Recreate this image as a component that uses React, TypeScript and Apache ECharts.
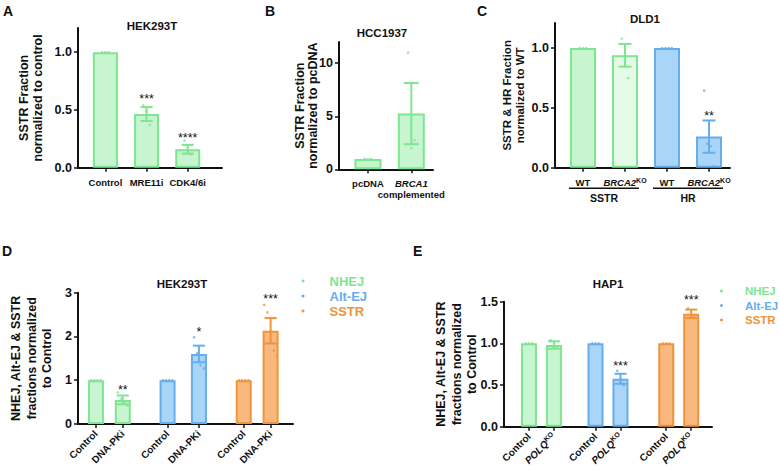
import React, { useEffect, useRef } from 'react';
import * as echarts from 'echarts';

const FONT = '"Liberation Sans", Arial, Helvetica, sans-serif';
const INK = '#111111';

type Col = { fill: string; border: string };
const GREEN: Col = { fill: '#C6F5CF', border: '#7EE591' };
const GREEN_PALE: Col = { fill: '#E4FBE8', border: '#7EE591' };
const BLUE: Col = { fill: '#A9D6F8', border: '#66ADEB' };
const ORANGE: Col = { fill: '#F9B97E', border: '#F0933C' };

// ---------- Panel A : HEK293T ----------
const aLabels = ['Control', 'MRE11i', 'CDK4/6i'];
const aMeans = [1.0, 0.465, 0.16];
const aSems = [0, 0.06, 0.038];
const aPoints = [[1.0, 1.0, 1.0], [0.54, 0.49, 0.37], [0.235, 0.13, 0.115]];
const aStars = ['', '***', '****'];
const aStarLevels = [0, 0.615, 0.28];
const aTicks = [0, 0.5, 1.0];

// ---------- Panel B : HCC1937 ----------
const bLabels = ['pcDNA', '{i|BRCA1}\ncomplemented'];
const bMeans = [0.98, 5.25];
const bSems = [0, 2.88];
const bPoints = [[1.0, 0.97, 0.98], [11.0, 2.0, 2.75]];
const bStars = ['', ''];
const bStarLevels = [0, 0];
const bTicks = [0, 5, 10];

// ---------- Panel C : DLD1 ----------
const cLabels = ['WT', '{i|BRCA2}{sup|KO}', 'WT', '{i|BRCA2}{sup|KO}'];
const cGroups = ['SSTR', 'HR'];
const cGroupMembers = [[0, 1], [2, 3]];
const cMeans = [1.0, 0.94, 1.0, 0.26];
const cSems = [0, 0.095, 0, 0.135];
const cPoints = [[1, 1, 1], [1.08, 0.99, 0.75], [1, 1, 1, 1], [0.645, 0.2, 0.18, 0.014]];
const cStars = ['', '', '', '**'];
const cStarLevels = [0, 0, 0, 0.455];
const cTicks = [0, 0.5, 1.0];

// ---------- Panel D : HEK293T ----------
const legendNames = ['NHEJ', 'Alt-EJ', 'SSTR'];
const dLabels = ['Control', 'DNA-PKi', 'Control', 'DNA-PKi', 'Control', 'DNA-PKi'];
const dSeries = ['NHEJ', 'NHEJ', 'Alt-EJ', 'Alt-EJ', 'SSTR', 'SSTR'];
const dMeans = [1.0, 0.55, 1.0, 1.6, 1.0, 2.13];
const dSems = [0, 0.1, 0, 0.19, 0, 0.29];
const dPoints = [
  [1, 1, 1, 1],
  [0.72, 0.58, 0.48, 0.42],
  [1, 1, 1, 1],
  [1.98, 1.62, 1.34, 1.27],
  [1, 1, 1, 1],
  [2.72, 2.55, 2.1, 1.68, 1.55],
];
const dStars = ['', '**', '', '*', '', '***'];
const dStarLevels = [0, 0.83, 0, 2.17, 0, 2.91];
const dTicks = [0, 1, 2, 3];

// ---------- Panel E : HAP1 ----------
const eLabels = ['Control', '{i|POLQ}{sup|KO}', 'Control', '{i|POLQ}{sup|KO}', 'Control', '{i|POLQ}{sup|KO}'];
const eSeries = ['NHEJ', 'NHEJ', 'Alt-EJ', 'Alt-EJ', 'SSTR', 'SSTR'];
const eMeans = [1.0, 0.98, 1.0, 0.575, 1.0, 1.355];
const eSems = [0, 0.045, 0, 0.06, 0, 0.05];
const ePoints = [
  [1, 1, 1],
  [1.04, 0.95, 0.96],
  [1, 1, 1],
  [0.67, 0.55, 0.5],
  [1, 1, 1],
  [1.42, 1.33, 1.31],
];
const eStars = ['', '', '', '***', '', '***'];
const eStarLevels = [0, 0, 0, 0.76, 0, 1.55];
const eTicks = [0, 0.5, 1.0, 1.5];

const legendColors: Record<string, Col> = { NHEJ: GREEN, 'Alt-EJ': BLUE, SSTR: ORANGE };

interface PanelCfg {
  grid: { left: number; top: number; width: number; height: number };
  nSlots: number;
  slots: number[];
  labels: string[];
  yMax: number;
  yTicks: number[];
  yDigits: number;
  yName: string;
  nameGap: number;
  nameLH: number;
  nameSize: number;
  means: number[];
  sems: number[];
  points: number[][];
  stars: string[];
  starLevels: number[];
  colors: Col[];
  seriesNames?: string[];
  barWidth: number;
  capHalf: number;
  labelRotate: number;
  labelSize: number;
  labelMargin: number;
  labelLH: number;
}

const panels: PanelCfg[] = [
  {
    grid: { left: 78, top: 28, width: 144, height: 139.7 },
    nSlots: 22, slots: [4, 10, 16], labels: aLabels,
    yMax: 1.21, yTicks: aTicks, yDigits: 1,
    yName: 'SSTR Fraction\nnormalized to control', nameGap: 33, nameLH: 14, nameSize: 12.5,
    means: aMeans, sems: aSems, points: aPoints, stars: aStars, starLevels: aStarLevels,
    colors: [GREEN, GREEN, GREEN], barWidth: 25, capHalf: 6,
    labelRotate: 0, labelSize: 9.5, labelMargin: 9, labelLH: 11,
  },
  {
    grid: { left: 339, top: 42, width: 94, height: 127.3 },
    nSlots: 14, slots: [4, 10], labels: bLabels,
    yMax: 12, yTicks: bTicks, yDigits: 0,
    yName: 'SSTR Fraction\nnormalized to pcDNA', nameGap: 19, nameLH: 13.5, nameSize: 12.5,
    means: bMeans, sems: bSems, points: bPoints, stars: bStars, starLevels: bStarLevels,
    colors: [GREEN, GREEN], barWidth: 27, capHalf: 7.5,
    labelRotate: 0, labelSize: 9.5, labelMargin: 9, labelLH: 11,
  },
  {
    grid: { left: 555, top: 23, width: 175, height: 144.7 },
    nSlots: 26, slots: [4, 10, 16, 22], labels: cLabels,
    yMax: 1.21, yTicks: cTicks, yDigits: 1,
    yName: 'SSTR & HR Fraction\nnormalized to WT', nameGap: 29, nameLH: 12.5, nameSize: 11.5,
    means: cMeans, sems: cSems, points: cPoints, stars: cStars, starLevels: cStarLevels,
    colors: [GREEN, GREEN_PALE, BLUE, BLUE], barWidth: 26, capHalf: 6.5,
    labelRotate: 0, labelSize: 9.5, labelMargin: 9, labelLH: 11,
  },
  {
    grid: { left: 78, top: 292.7, width: 215, height: 131.3 },
    nSlots: 49, slots: [4, 10, 20, 27, 37, 43], labels: dLabels,
    yMax: 3, yTicks: dTicks, yDigits: 0,
    yName: 'NHEJ, Alt-EJ & SSTR\nfractions normalized\nto Control', nameGap: 23, nameLH: 15.5, nameSize: 12.5,
    means: dMeans, sems: dSems, points: dPoints, stars: dStars, starLevels: dStarLevels,
    colors: [GREEN, GREEN, BLUE, BLUE, ORANGE, ORANGE], seriesNames: dSeries,
    barWidth: 16, capHalf: 6,
    labelRotate: 45, labelSize: 10, labelMargin: 8, labelLH: 12,
  },
  {
    grid: { left: 504, top: 301.7, width: 208, height: 125 },
    nSlots: 51, slots: [6, 12, 22, 28, 39, 45], labels: eLabels,
    yMax: 1.5, yTicks: eTicks, yDigits: 1,
    yName: 'NHEJ, Alt-EJ & SSTR\nfractions normalized\nto Control', nameGap: 24, nameLH: 15.5, nameSize: 12.5,
    means: eMeans, sems: eSems, points: ePoints, stars: eStars, starLevels: eStarLevels,
    colors: [GREEN, GREEN, BLUE, BLUE, ORANGE, ORANGE], seriesNames: eSeries,
    barWidth: 16, capHalf: 6,
    labelRotate: 45, labelSize: 10, labelMargin: 8, labelLH: 12,
  },
];

function buildOption() {
  const grid: any[] = [];
  const xAxis: any[] = [];
  const yAxis: any[] = [];
  const series: any[] = [];

  panels.forEach((p, pi) => {
    grid.push({ ...p.grid, containLabel: false, outerBoundsMode: 'none' });
    const labelAt: Record<number, string> = {};
    p.slots.forEach((s, i) => { labelAt[s] = p.labels[i]; });
    const show = (index: number) => labelAt[index] !== undefined;
    const supSize = Math.round(p.labelSize * 0.7);
    xAxis.push({
      gridIndex: pi,
      type: 'category',
      boundaryGap: false,
      data: Array.from({ length: p.nSlots }, (_, i) => 's' + i),
      axisLine: { show: true, lineStyle: { color: INK, width: 2 } },
      axisTick: { show: true, interval: show, length: 4, lineStyle: { color: INK, width: 1.5 } },
      splitLine: { show: false },
      axisLabel: {
        interval: 0,
        hideOverlap: false,
        rotate: p.labelRotate,
        margin: p.labelMargin,
        color: INK,
        fontFamily: FONT,
        fontWeight: 'bold',
        fontSize: p.labelSize,
        lineHeight: p.labelLH,
        formatter: (v: string) => labelAt[parseInt(v.slice(1), 10)] ?? '',
        rich: {
          i: { fontStyle: 'italic', fontWeight: 'bold', fontSize: p.labelSize, fontFamily: FONT, color: INK, lineHeight: p.labelLH },
          sup: { fontWeight: 'bold', fontSize: supSize, fontFamily: FONT, color: INK, verticalAlign: 'top', lineHeight: p.labelLH },
        },
      },
    });
    yAxis.push({
      gridIndex: pi,
      type: 'value',
      min: 0,
      max: p.yMax,
      splitLine: { show: false },
      axisLine: { show: true, lineStyle: { color: INK, width: 2 } },
      axisTick: { show: true, length: 4, customValues: p.yTicks, lineStyle: { color: INK, width: 1.5 } },
      axisLabel: {
        customValues: p.yTicks,
        formatter: (v: number) => v.toFixed(p.yDigits),
        color: INK,
        fontFamily: FONT,
        fontWeight: 'bold',
        fontSize: 12.5,
        margin: 6,
      },
      name: p.yName,
      nameLocation: 'middle',
      nameGap: p.nameGap,
      nameMoveOverlap: false,
      nameTextStyle: { color: INK, fontFamily: FONT, fontWeight: 'bold', fontSize: p.nameSize, lineHeight: p.nameLH },
    });

    // bars
    const names = p.seriesNames ?? p.means.map(() => '');
    const uniq = Array.from(new Set(names));
    uniq.forEach((nm) => {
      const data: any[] = Array(p.nSlots).fill('-');
      p.means.forEach((m, i) => {
        if (names[i] !== nm) return;
        data[p.slots[i]] = { value: m, itemStyle: { color: p.colors[i].fill, borderColor: p.colors[i].border } };
      });
      const s: any = {
        type: 'bar',
        xAxisIndex: pi,
        yAxisIndex: pi,
        stack: 'stack' + pi,
        barWidth: p.barWidth,
        itemStyle: { borderWidth: 2 },
        data,
        z: 2,
        silent: true,
      };
      if (nm) s.name = nm;
      series.push(s);
    });

    // error bars + significance stars
    series.push({
      type: 'custom',
      xAxisIndex: pi,
      yAxisIndex: pi,
      z: 3,
      silent: true,
      encode: { x: 0, y: 1 },
      data: p.means.map((m, i) => [p.slots[i], m, p.sems[i], i]),
      renderItem: (_params: any, api: any) => {
        const x = api.value(0);
        const m = api.value(1);
        const s = api.value(2);
        const i = api.value(3);
        const col = p.colors[i].border;
        const children: any[] = [];
        if (s > 0) {
          const top = api.coord([x, m + s]);
          const bot = api.coord([x, m - s]);
          const st = { stroke: col, lineWidth: 2 };
          children.push({ type: 'line', shape: { x1: top[0], y1: top[1], x2: bot[0], y2: bot[1] }, style: st });
          children.push({ type: 'line', shape: { x1: top[0] - p.capHalf, y1: top[1], x2: top[0] + p.capHalf, y2: top[1] }, style: st });
          children.push({ type: 'line', shape: { x1: bot[0] - p.capHalf, y1: bot[1], x2: bot[0] + p.capHalf, y2: bot[1] }, style: st });
        }
        if (p.stars[i]) {
          const sp = api.coord([x, p.starLevels[i]]);
          children.push({
            type: 'text',
            x: sp[0],
            y: sp[1] + 2.5,
            style: {
              text: p.stars[i], fill: INK, fontSize: 12.5, fontFamily: FONT,
              align: 'center', verticalAlign: 'middle', textAlign: 'center', textVerticalAlign: 'middle',
            },
          });
        }
        return { type: 'group', children };
      },
    });

    // individual points
    const pts: any[] = [];
    p.points.forEach((arr, i) => {
      const n = arr.length;
      arr.forEach((v, k) => {
        pts.push({
          value: [p.slots[i], v],
          symbolOffset: [(k - (n - 1) / 2) * 3.2, 0],
          itemStyle: { color: p.colors[i].border },
        });
      });
    });
    series.push({
      type: 'scatter',
      xAxisIndex: pi,
      yAxisIndex: pi,
      symbol: 'circle',
      symbolSize: 2.6,
      z: 4,
      silent: true,
      data: pts,
    });
  });

  const legendData = legendNames.map((n) => ({
    name: n,
    itemStyle: { color: legendColors[n].border },
    textStyle: { color: legendColors[n].border },
  }));
  const legendBase = {
    orient: 'vertical',
    icon: 'circle',
    itemWidth: 3,
    itemHeight: 3,
    itemGap: 0,
    padding: 0,
    selectedMode: false,
    data: legendData,
  };

  return {
    animation: false,
    backgroundColor: '#ffffff',
    textStyle: { fontFamily: FONT },
    grid,
    xAxis,
    yAxis,
    series,
    legend: [
      {
        ...legendBase, left: 301.5, top: 273.5,
        textStyle: { fontFamily: FONT, fontWeight: 'bold', fontSize: 13, lineHeight: 15, padding: [0, 0, 0, 20] },
      },
      {
        ...legendBase, left: 720, top: 283.8,
        textStyle: { fontFamily: FONT, fontWeight: 'bold', fontSize: 11.5, lineHeight: 14.5, padding: [0, 0, 0, 17] },
      },
    ],
  };
}

const letters = [
  { t: 'A', x: 3, y: 10 },
  { t: 'B', x: 265, y: 10 },
  { t: 'C', x: 477, y: 10 },
  { t: 'D', x: 2, y: 250 },
  { t: 'E', x: 413, y: 250 },
];
const titles = [
  { t: 'HEK293T', x: 152, y: 25 },
  { t: 'HCC1937', x: 382, y: 32 },
  { t: 'DLD1', x: 645, y: 18 },
  { t: 'HEK293T', x: 182, y: 283 },
  { t: 'HAP1', x: 608, y: 283 },
];

export default function App() {
  const ref = useRef<HTMLDivElement>(null);
  useEffect(() => {
    const el = ref.current;
    if (!el) return;
    const chart = echarts.init(el, undefined, { renderer: 'svg', width: 780, height: 470 });
    chart.setOption(buildOption());

    const graphic: any[] = [];
    letters.forEach((l) => {
      graphic.push({
        type: 'text', x: l.x, y: l.y + 1,
        style: { text: l.t, fill: INK, fontFamily: FONT, fontWeight: 'bold', fontSize: 14, align: 'left', verticalAlign: 'middle' },
      });
    });
    titles.forEach((t) => {
      graphic.push({
        type: 'text', x: t.x, y: t.y + 1,
        style: { text: t.t, fill: INK, fontFamily: FONT, fontWeight: 'bold', fontSize: 11.5, align: 'center', verticalAlign: 'middle' },
      });
    });
    // panel C group labels under the category axis
    const pc = panels[2];
    const baseY = pc.grid.top + pc.grid.height;
    cGroups.forEach((g, gi) => {
      const mem = cGroupMembers[gi];
      const x0 = chart.convertToPixel({ xAxisIndex: 2 } as any, pc.slots[mem[0]]) as unknown as number;
      const x1 = chart.convertToPixel({ xAxisIndex: 2 } as any, pc.slots[mem[mem.length - 1]]) as unknown as number;
      const half = pc.barWidth / 2 + 1;
      graphic.push({
        type: 'line',
        shape: { x1: x0 - half, y1: baseY + 20.5, x2: x1 + half, y2: baseY + 20.5 },
        style: { stroke: INK, lineWidth: 1.5 },
      });
      graphic.push({
        type: 'text', x: (x0 + x1) / 2, y: baseY + 30,
        style: { text: g, fill: INK, fontFamily: FONT, fontWeight: 'bold', fontSize: 10.5, align: 'center', verticalAlign: 'middle' },
      });
    });
    chart.setOption({ graphic });
    return () => chart.dispose();
  }, []);
  return (
    <div
      ref={ref}
      style={{ position: 'absolute', left: 0, top: 0, width: 780, height: 470, background: '#ffffff' }}
    />
  );
}
